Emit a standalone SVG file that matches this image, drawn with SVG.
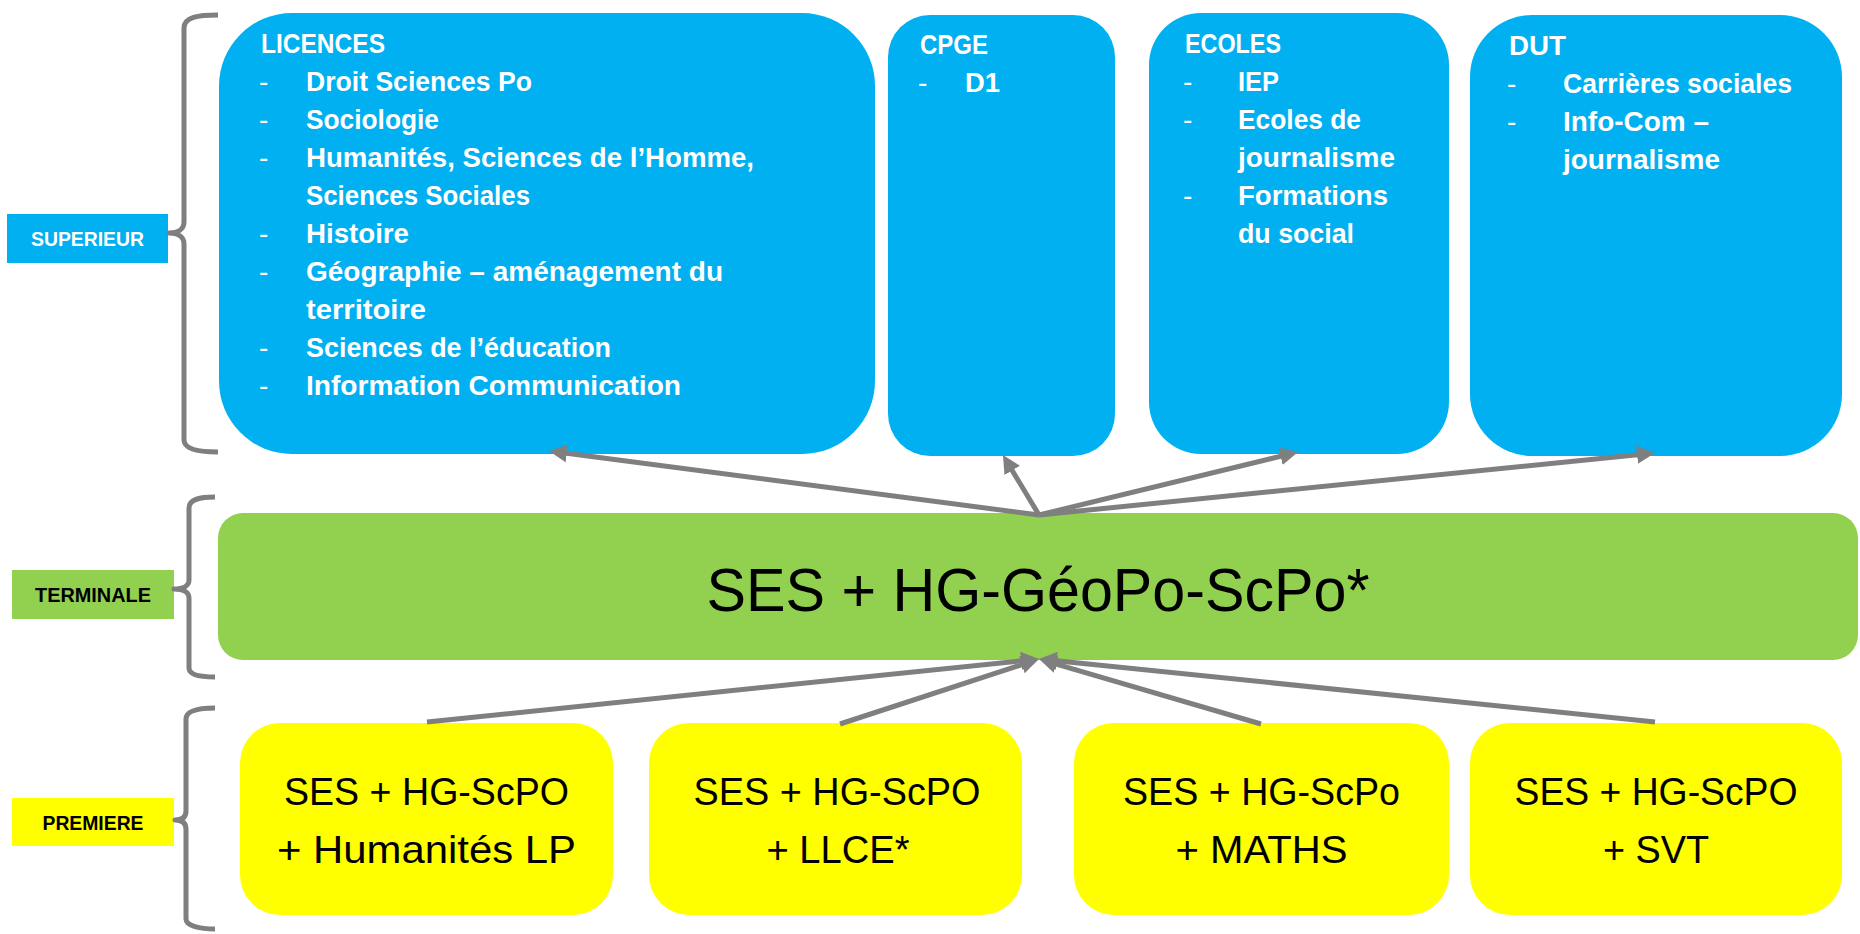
<svg xmlns="http://www.w3.org/2000/svg" width="1860" height="934" viewBox="0 0 1860 934">
<defs>
<style>
.blue{fill:#00B0F0}
.green{fill:#92D050}
.yellow{fill:#FFFF00}
.brace{fill:none;stroke:#7F7F7F;stroke-width:5;stroke-linejoin:round}
.conn{fill:none;stroke:#7F7F7F;stroke-width:5;marker-end:url(#ah)}
.wt{font-family:"Liberation Sans",Arial,sans-serif;font-weight:bold;font-size:28px;fill:#FFFFFF}
.dash{font-family:"Liberation Sans",Arial,sans-serif;font-weight:normal;font-size:28px;fill:#FFFFFF}
.lbl{font-family:"Liberation Sans",Arial,sans-serif;font-weight:bold;font-size:20px;text-anchor:middle}
.yt{font-family:"Liberation Sans",Arial,sans-serif;font-size:39px;fill:#000000;text-anchor:middle}
.gt{font-family:"Liberation Sans",Arial,sans-serif;font-size:61px;fill:#000000;text-anchor:middle}
</style>
<marker id="ah" markerUnits="userSpaceOnUse" markerWidth="20" markerHeight="20" viewBox="0 0 20 20" refX="8" refY="10" orient="auto">
<path d="M0,1 L18,10 L0,19 z" fill="#7F7F7F"/>
</marker>
</defs>
<rect width="1860" height="934" fill="#FFFFFF"/>

<g id="label-superieur">
<rect x="7" y="214" width="161" height="49" class="blue"/>
<text x="87.5" y="246" class="lbl" fill="#FFFFFF" textLength="113" lengthAdjust="spacingAndGlyphs">SUPERIEUR</text>
</g>
<g id="label-terminale">
<rect x="12" y="570" width="162" height="49" class="green"/>
<text x="93" y="602" class="lbl" fill="#000000" textLength="116" lengthAdjust="spacingAndGlyphs">TERMINALE</text>
</g>
<g id="label-premiere">
<rect x="12" y="798" width="162" height="48" class="yellow"/>
<text x="93" y="830" class="lbl" fill="#000000" textLength="101" lengthAdjust="spacingAndGlyphs">PREMIERE</text>
</g>

<g id="braces">
<path class="brace" d="M218,15 C198,15 184,17 184,28 L184,222 C184,229 178,233 169,233 C178,233 184,237 184,244 L184,440 C184,449 198,452 218,452"/>
<path class="brace" d="M215,497 C200,497 189,499 189,508 L189,580 C189,586 183,589 174,589 C183,589 189,592 189,598 L189,668 C189,675 200,677 215,677"/>
<path class="brace" d="M215,708 C200,708 186,710 186,719 L186,811 C186,817 182,820 175,820 C182,820 186,823 186,829 L186,919 C186,926 200,929 215,929"/>
</g>

<g id="licences">
<rect x="219" y="13" width="656" height="441" rx="73" ry="73" class="blue"/>
<text class="wt" x="261" y="53" textLength="124" lengthAdjust="spacingAndGlyphs">LICENCES</text>
<text class="dash" x="259" y="91">-</text>
<text class="wt" x="306" y="91" textLength="226" lengthAdjust="spacingAndGlyphs">Droit Sciences Po</text>
<text class="dash" x="259" y="129">-</text>
<text class="wt" x="306" y="129" textLength="133" lengthAdjust="spacingAndGlyphs">Sociologie</text>
<text class="dash" x="259" y="167">-</text>
<text class="wt" x="306" y="167" textLength="448" lengthAdjust="spacingAndGlyphs">Humanités, Sciences de l’Homme,</text>
<text class="wt" x="306" y="205" textLength="224" lengthAdjust="spacingAndGlyphs">Sciences Sociales</text>
<text class="dash" x="259" y="243">-</text>
<text class="wt" x="306" y="243" textLength="103" lengthAdjust="spacingAndGlyphs">Histoire</text>
<text class="dash" x="259" y="281">-</text>
<text class="wt" x="306" y="281" textLength="417" lengthAdjust="spacingAndGlyphs">Géographie – aménagement du</text>
<text class="wt" x="306" y="319" textLength="120" lengthAdjust="spacingAndGlyphs">territoire</text>
<text class="dash" x="259" y="357">-</text>
<text class="wt" x="306" y="357" textLength="305" lengthAdjust="spacingAndGlyphs">Sciences de l’éducation</text>
<text class="dash" x="259" y="395">-</text>
<text class="wt" x="306" y="395" textLength="375" lengthAdjust="spacingAndGlyphs">Information Communication</text>
</g>

<g id="cpge">
<rect x="888" y="15" width="227" height="441" rx="42" ry="42" class="blue"/>
<text class="wt" x="920" y="54" textLength="68" lengthAdjust="spacingAndGlyphs">CPGE</text>
<text class="dash" x="918" y="92">-</text>
<text class="wt" x="965" y="92" textLength="35" lengthAdjust="spacingAndGlyphs">D1</text>
</g>

<g id="ecoles">
<rect x="1149" y="13" width="300" height="441" rx="52" ry="52" class="blue"/>
<text class="wt" x="1185" y="53" textLength="96" lengthAdjust="spacingAndGlyphs">ECOLES</text>
<text class="dash" x="1183" y="91">-</text>
<text class="wt" x="1238" y="91" textLength="41" lengthAdjust="spacingAndGlyphs">IEP</text>
<text class="dash" x="1183" y="129">-</text>
<text class="wt" x="1238" y="129" textLength="123" lengthAdjust="spacingAndGlyphs">Ecoles de</text>
<text class="wt" x="1238" y="167" textLength="157" lengthAdjust="spacingAndGlyphs">journalisme</text>
<text class="dash" x="1183" y="205">-</text>
<text class="wt" x="1238" y="205" textLength="150" lengthAdjust="spacingAndGlyphs">Formations</text>
<text class="wt" x="1238" y="243" textLength="116" lengthAdjust="spacingAndGlyphs">du social</text>
</g>

<g id="dut">
<rect x="1470" y="15" width="372" height="441" rx="62" ry="62" class="blue"/>
<text class="wt" x="1509" y="55" textLength="57" lengthAdjust="spacingAndGlyphs">DUT</text>
<text class="dash" x="1507" y="93">-</text>
<text class="wt" x="1563" y="93" textLength="229" lengthAdjust="spacingAndGlyphs">Carrières sociales</text>
<text class="dash" x="1507" y="131">-</text>
<text class="wt" x="1563" y="131" textLength="146" lengthAdjust="spacingAndGlyphs">Info-Com –</text>
<text class="wt" x="1563" y="169" textLength="157" lengthAdjust="spacingAndGlyphs">journalisme</text>
</g>

<g id="terminale">
<rect x="218" y="513" width="1640" height="147" rx="25" ry="25" class="green"/>
<text class="gt" x="1038" y="611" textLength="663" lengthAdjust="spacingAndGlyphs">SES + HG-GéoPo-ScPo*</text>
</g>

<g id="premiere-1">
<rect x="240" y="723" width="373" height="192" rx="40" ry="40" class="yellow"/>
<text class="yt" x="426.5" y="805" textLength="285" lengthAdjust="spacingAndGlyphs">SES + HG-ScPO</text>
<text class="yt" x="426.5" y="863" textLength="299" lengthAdjust="spacingAndGlyphs">+ Humanités LP</text>
</g>
<g id="premiere-2">
<rect x="649" y="723" width="373" height="192" rx="40" ry="40" class="yellow"/>
<text class="yt" x="837" y="805" textLength="287" lengthAdjust="spacingAndGlyphs">SES + HG-ScPO</text>
<text class="yt" x="838" y="863" textLength="143" lengthAdjust="spacingAndGlyphs">+ LLCE*</text>
</g>
<g id="premiere-3">
<rect x="1074" y="723" width="375" height="192" rx="40" ry="40" class="yellow"/>
<text class="yt" x="1261.5" y="805" textLength="277" lengthAdjust="spacingAndGlyphs">SES + HG-ScPo</text>
<text class="yt" x="1261.5" y="863" textLength="172" lengthAdjust="spacingAndGlyphs">+ MATHS</text>
</g>
<g id="premiere-4">
<rect x="1470" y="723" width="372" height="192" rx="40" ry="40" class="yellow"/>
<text class="yt" x="1656" y="805" textLength="283" lengthAdjust="spacingAndGlyphs">SES + HG-ScPO</text>
<text class="yt" x="1656" y="863" textLength="106" lengthAdjust="spacingAndGlyphs">+ SVT</text>
</g>

<g id="connectors">
<line class="conn" x1="1039" y1="515" x2="558.9" y2="452.3"/>
<line class="conn" x1="1039" y1="515" x2="1008.1" y2="463.6"/>
<line class="conn" x1="1039" y1="515" x2="1288.3" y2="454.4"/>
<line class="conn" x1="1039" y1="515" x2="1645" y2="454"/>
<line class="conn" x1="427" y1="722" x2="1029.1" y2="660"/>
<line class="conn" x1="840" y1="724" x2="1029.5" y2="662.1"/>
<line class="conn" x1="1261" y1="724" x2="1048.6" y2="661.8"/>
<line class="conn" x1="1655" y1="722" x2="1048.9" y2="660"/>
</g>
</svg>
